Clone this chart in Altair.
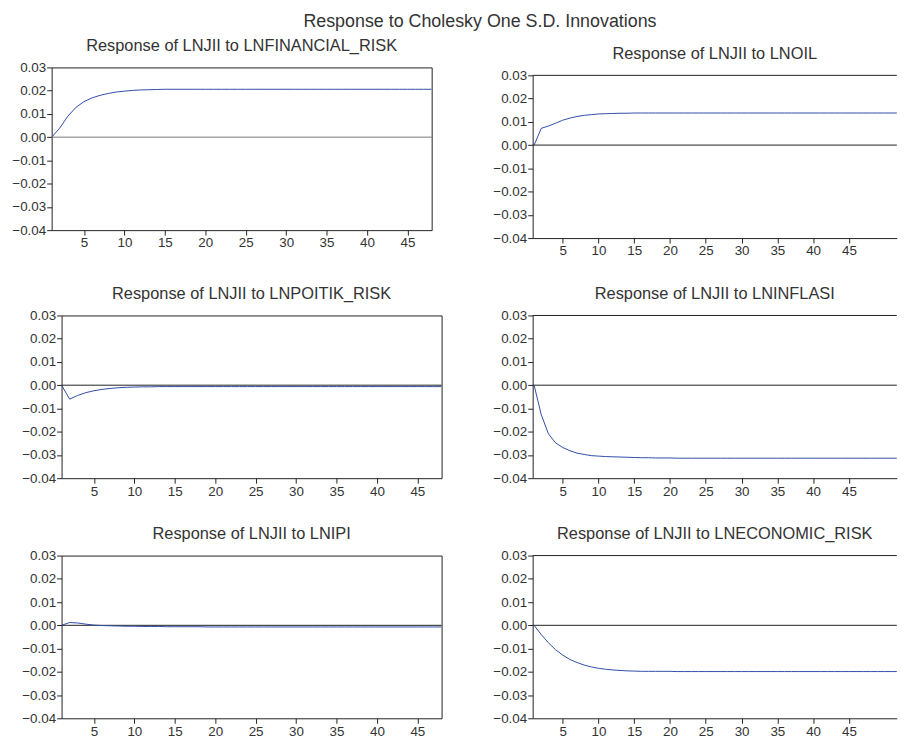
import altair as alt
import pandas as pd

FONT = "Liberation Sans"
LINE_COLOR = "#2f4ea6"
FRAME = "#222222"
TEXT = "#333333"

MAIN_TITLE = "Response to Cholesky One S.D. Innovations"
TITLES = [
    "Response of LNJII to LNFINANCIAL_RISK",
    "Response of LNJII to LNOIL",
    "Response of LNJII to LNPOITIK_RISK",
    "Response of LNJII to LNINFLASI",
    "Response of LNJII to LNIPI",
    "Response of LNJII to LNECONOMIC_RISK",
]

X_TICKS = [5, 10, 15, 20, 25, 30, 35, 40, 45]
Y_TICKS = [-0.04, -0.03, -0.02, -0.01, 0.00, 0.01, 0.02, 0.03]

periods_left = list(range(1, 49))
periods_right = list(range(1, 53))

fin = [0.0000, 0.0039, 0.0090, 0.0128, 0.0153, 0.0169, 0.0180, 0.0188, 0.0194, 0.0198,
       0.0201, 0.0203, 0.0204, 0.0205, 0.0206, 0.0206, 0.0206, 0.0206, 0.0206, 0.0206,
       0.0206, 0.0206, 0.0206, 0.0206, 0.0206, 0.0206, 0.0206, 0.0206, 0.0206, 0.0206,
       0.0206, 0.0206, 0.0206, 0.0206, 0.0206, 0.0206, 0.0206, 0.0206, 0.0206, 0.0206,
       0.0206, 0.0206, 0.0206, 0.0206, 0.0206, 0.0206, 0.0206, 0.0206]

oil = [0.0000, 0.0072, 0.0082, 0.0094, 0.0107, 0.0116, 0.0123, 0.0128, 0.0131, 0.0134,
       0.0135, 0.0136, 0.0137, 0.0137, 0.0138, 0.0138, 0.0138, 0.0138, 0.0138, 0.0138,
       0.0138, 0.0138, 0.0138, 0.0138, 0.0138, 0.0138, 0.0138, 0.0138, 0.0138, 0.0138,
       0.0138, 0.0138, 0.0138, 0.0138, 0.0138, 0.0138, 0.0138, 0.0138, 0.0138, 0.0138,
       0.0138, 0.0138, 0.0138, 0.0138, 0.0138, 0.0138, 0.0138, 0.0138, 0.0138, 0.0138,
       0.0138, 0.0138]

pol = [0.0000, -0.0060, -0.0044, -0.0032, -0.0024, -0.0018, -0.0014, -0.0011, -0.0009, -0.0008,
       -0.0007, -0.0007, -0.0006, -0.0006, -0.0006, -0.0006, -0.0006, -0.0006, -0.0006, -0.0006,
       -0.0006, -0.0006, -0.0006, -0.0006, -0.0006, -0.0006, -0.0006, -0.0006, -0.0006, -0.0006,
       -0.0006, -0.0006, -0.0006, -0.0006, -0.0006, -0.0006, -0.0006, -0.0006, -0.0006, -0.0006,
       -0.0006, -0.0006, -0.0006, -0.0006, -0.0006, -0.0006, -0.0006, -0.0006]

inf = [0.0000, -0.0127, -0.0209, -0.0248, -0.0268, -0.0282, -0.0292, -0.0298, -0.0303, -0.0305,
       -0.0307, -0.0308, -0.0309, -0.0310, -0.0311, -0.0312, -0.0312, -0.0313, -0.0313, -0.0313,
       -0.0314, -0.0314, -0.0314, -0.0314, -0.0314, -0.0314, -0.0314, -0.0314, -0.0314, -0.0314,
       -0.0314, -0.0314, -0.0314, -0.0314, -0.0314, -0.0314, -0.0314, -0.0314, -0.0314, -0.0314,
       -0.0314, -0.0314, -0.0314, -0.0314, -0.0314, -0.0314, -0.0314, -0.0314, -0.0314, -0.0314,
       -0.0314, -0.0314]

ipi = [0.0000, 0.0012, 0.0010, 0.0005, 0.0001, -0.0001, -0.0002, -0.0003, -0.0004, -0.0004,
       -0.0005, -0.0005, -0.0005, -0.0006, -0.0006, -0.0006, -0.0006, -0.0006, -0.0007, -0.0007,
       -0.0007, -0.0007, -0.0007, -0.0007, -0.0007, -0.0007, -0.0007, -0.0007, -0.0007, -0.0007,
       -0.0007, -0.0007, -0.0007, -0.0007, -0.0007, -0.0007, -0.0007, -0.0007, -0.0007, -0.0007,
       -0.0007, -0.0007, -0.0007, -0.0007, -0.0007, -0.0007, -0.0007, -0.0007]

eco = [0.0000, -0.0040, -0.0075, -0.0105, -0.0128, -0.0147, -0.0160, -0.0171, -0.0179, -0.0185,
       -0.0189, -0.0192, -0.0194, -0.0196, -0.0197, -0.0198, -0.0198, -0.0198, -0.0198, -0.0198,
       -0.0199, -0.0199, -0.0199, -0.0199, -0.0199, -0.0199, -0.0199, -0.0199, -0.0199, -0.0199,
       -0.0199, -0.0199, -0.0199, -0.0199, -0.0199, -0.0199, -0.0199, -0.0199, -0.0199, -0.0199,
       -0.0199, -0.0199, -0.0199, -0.0199, -0.0199, -0.0199, -0.0199, -0.0199, -0.0199, -0.0199,
       -0.0199, -0.0199]

LEFT_DOMAIN = [1, 48]
RIGHT_DOMAIN = [0.8, 51.7]
LEFT_W, RIGHT_W, H = 383, 367, 164


def axis_common(**kw):
    return dict(
        title=None, grid=False, labelFont=FONT, labelFontSize=13.5, labelColor=TEXT,
        tickColor=FRAME, tickSize=5, domainColor=FRAME, **kw)


def panel(title, periods, values, domain, width, right, zero_color=FRAME):
    df = pd.DataFrame({"period": periods, "value": values})
    xs = alt.Scale(domain=domain, nice=False, zero=False)
    ys = alt.Scale(domain=[-0.04, 0.03], nice=False, zero=False)
    xax = alt.Axis(values=X_TICKS, format="d", labelPadding=1, domain=right,
                   **axis_common())
    yax = alt.Axis(values=Y_TICKS, format=".2f", labelPadding=1, domain=right,
                   **axis_common())
    zero = alt.Chart(pd.DataFrame({"ref": [0.0]})).mark_rule(
        color=zero_color, strokeWidth=1).encode(
        y=alt.Y("ref:Q", scale=ys, axis=yax))
    layers = [zero]
    if right:
        top = alt.Chart(pd.DataFrame({"ref": [0.03]})).mark_rule(
            color=FRAME, strokeWidth=1).encode(
            y=alt.Y("ref:Q", scale=ys, axis=yax))
        layers.append(top)
    line = alt.Chart(df).mark_line(color=LINE_COLOR, strokeWidth=1, clip=True).encode(
        x=alt.X("period:Q", scale=xs, axis=xax),
        y=alt.Y("value:Q", scale=ys, axis=yax),
    )
    layers.append(line)
    return alt.layer(*layers).properties(
        width=width, height=H,
        title=alt.TitleParams(title, font=FONT, fontSize=16.5, fontWeight="normal",
                              color=TEXT, offset=6, anchor="middle"),
        view=alt.ViewBackground(stroke="transparent" if right else FRAME, strokeWidth=1),
    )


def spacer():
    return alt.Chart(pd.DataFrame({"a": [0]})).mark_point(
        size=0, strokeWidth=0, opacity=0, filled=True
    ).encode(x=alt.value(0), y=alt.value(0)).properties(
        width=1, height=1, view=alt.ViewBackground(stroke="transparent"))


p1 = panel(TITLES[0], periods_left, fin, LEFT_DOMAIN, LEFT_W, False, zero_color="#777777")
p2 = panel(TITLES[1], periods_right, oil, RIGHT_DOMAIN, RIGHT_W, True)
p3 = panel(TITLES[2], periods_left, pol, LEFT_DOMAIN, LEFT_W, False)
p4 = panel(TITLES[3], periods_right, inf, RIGHT_DOMAIN, RIGHT_W, True)
p5 = panel(TITLES[4], periods_left, ipi, LEFT_DOMAIN, LEFT_W, False)
p6 = panel(TITLES[5], periods_right, eco, RIGHT_DOMAIN, RIGHT_W, True)

# rows: a tiny invisible spacer leads each row so the panels can be offset
a1 = alt.vconcat(spacer(), p1, spacing=0)
b1 = alt.vconcat(spacer(), p2, spacing=8)
row1 = alt.hconcat(alt.hconcat(spacer(), a1, spacing=0), b1, spacing=59.8)
row2 = alt.hconcat(alt.hconcat(spacer(), p3, spacing=10), p4, spacing=49.8)
row3 = alt.hconcat(alt.hconcat(spacer(), p5, spacing=10), p6, spacing=49.8)

chart = alt.vconcat(row1, row2, row3, spacing=28).properties(
    title=alt.TitleParams(MAIN_TITLE, font=FONT, fontSize=18, fontWeight="normal",
                          color=TEXT, offset=4, anchor="middle", dx=27),
    padding={"left": 0, "top": 2, "right": 0, "bottom": 0},
    background="white",
)

chart.save("out.html", embed_options={"renderer": "svg", "actions": False})
